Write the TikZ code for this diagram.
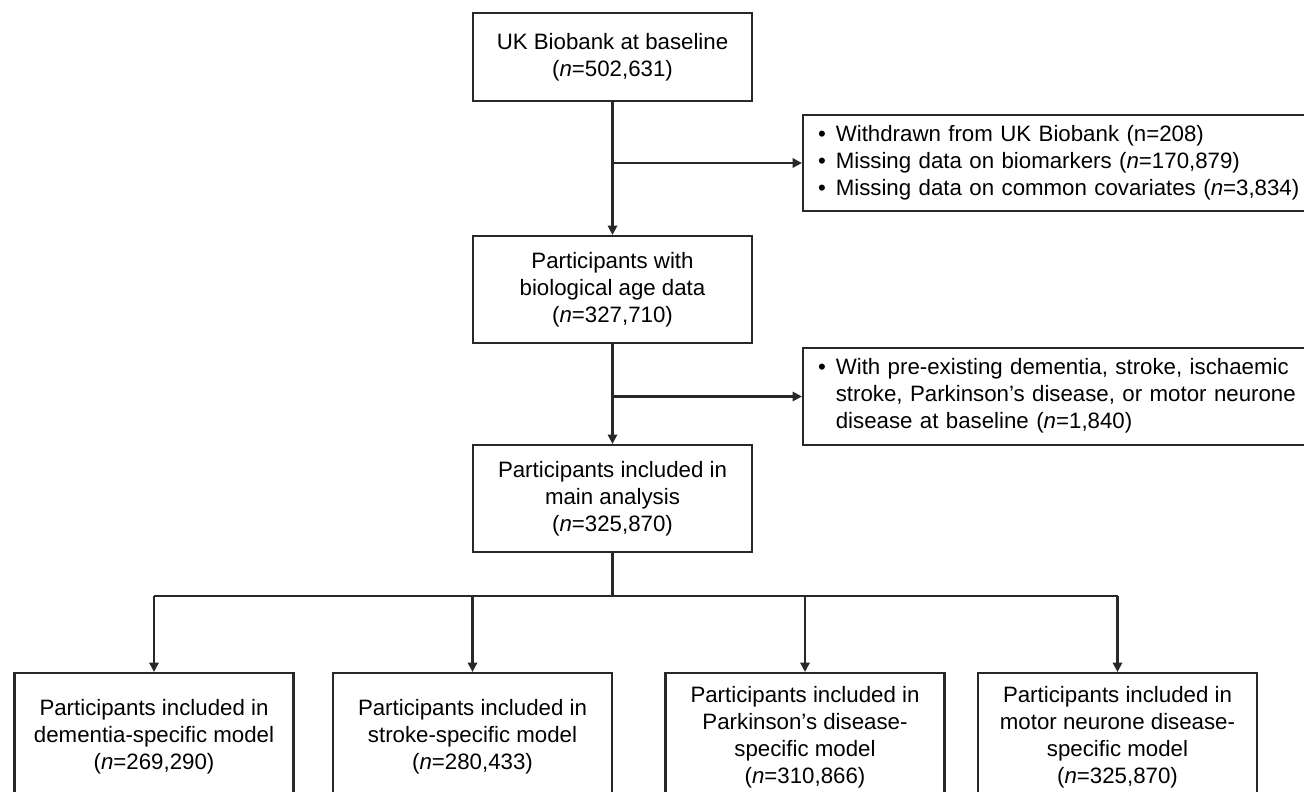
\documentclass[tikz,border=0pt]{standalone}
\usepackage{fontspec}
\setmainfont{Liberation Sans}
\usetikzlibrary{arrows.meta}

\tikzset{every picture/.style={line width=0.75pt}}
\tikzset{
  flowbox/.style={draw={rgb, 255:red, 40; green, 40; blue, 40}, line width=1.6pt, align=center, inner sep=0pt, minimum width=209.25pt},
  exclbox/.style={draw={rgb, 255:red, 40; green, 40; blue, 40}, line width=1.6pt, align=left, inner xsep=11.25pt, inner ysep=0pt, text width=359.25pt},
  flowline/.style={draw={rgb, 255:red, 40; green, 40; blue, 40}, line width=1.6pt},
  flowarrow/.style={flowline, -{Triangle[length=7pt, width=7pt]}}
}
\newcommand{\nn}{\textit{n}}

\begin{document}
\begin{tikzpicture}[x=0.75pt,y=0.75pt,yscale=-1,xscale=1]
\fontsize{16.7}{20.25}\selectfont
\useasboundingbox (0,0) rectangle (1304,792);

%Main column
\node [flowbox, minimum height=66pt] (base) at (612.5,57) {UK Biobank at baseline\\(\nn=502,631)};
\node [flowbox, minimum height=80.25pt] (bioage) at (612.5,289.5) {Participants with\\biological age data\\(\nn=327,710)};
\node [flowbox, minimum height=80.25pt] (mainan) at (612.5,498.5) {Participants included in\\main analysis\\(\nn=325,870)};

%Exclusion boxes (run past the right edge)
\node [exclbox, minimum height=72pt] (exclA) at (1057.5,163) {\begin{tabular}{@{}l@{\hspace{7.5pt}}l@{}}
\textbullet & Withdrawn from UK Biobank (n=208)\\
\textbullet & Missing data on biomarkers (\nn=170,879)\\
\textbullet & Missing data on common covariates (\nn=3,834)
\end{tabular}};
\node [exclbox, minimum height=72.75pt] (exclB) at (1057.5,396.5) {\begin{tabular}{@{}l@{\hspace{7.5pt}}l@{}}
\textbullet & With pre-existing dementia, stroke, ischaemic\\
 & stroke, Parkinson's disease, or motor neurone\\
 & disease at baseline (\nn=1,840)
\end{tabular}};

%Disease-specific models
\node [flowbox, minimum height=96pt] (dem) at (154,737) {Participants included in\\dementia-specific model\\(\nn=269,290)};
\node [flowbox, minimum height=96pt] (strk) at (472.5,737) {Participants included in\\stroke-specific model\\(\nn=280,433)};
\node [flowbox, minimum height=96pt] (park) at (805,737) {Participants included in\\Parkinson's disease-\\specific model\\(\nn=310,866)};
\node [flowbox, minimum height=96pt] (mnd) at (1117.5,737) {Participants included in\\motor neurone disease-\\specific model\\(\nn=325,870)};

\coordinate (hub) at (612.5,596);

%Connectors
\draw [flowarrow] (base.south) -- (bioage.north);
\draw [flowarrow] (base.south |- exclA.west) -- (exclA.west);
\draw [flowarrow] (bioage.south) -- (mainan.north);
\draw [flowarrow] (bioage.south |- exclB.west) -- (exclB.west);
\draw [flowline] (mainan.south) -- (hub);
\draw [flowline] (dem.north |- hub) -- (mnd.north |- hub);
\foreach \m in {dem,strk,park,mnd}
  \draw [flowarrow] (\m.north |- hub) -- (\m.north);

\end{tikzpicture}
\end{document}
